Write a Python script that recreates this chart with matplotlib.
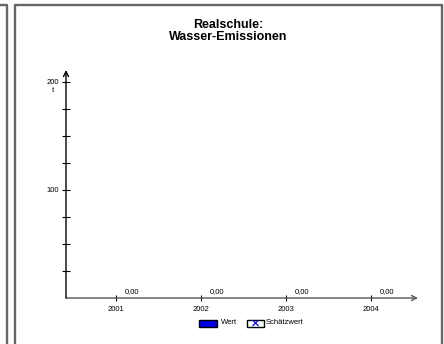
import matplotlib
matplotlib.use("Agg")
import matplotlib.pyplot as plt
from matplotlib.lines import Line2D
from matplotlib.patches import Rectangle
import numpy as np

plt.rcParams['font.family'] = ['Liberation Sans', 'DejaVu Sans']

title = "Realschule:\nWasser-Emissionen"
years = ["2001", "2002", "2003", "2004"]
wert = [0.0, 0.0, 0.0, 0.0]
unit = "t"
yticks_major = [100, 200]
legend_labels = ["Wert", "Schätzwert"]

W, H = 444, 344
fig = plt.figure(figsize=(W / 100, H / 100), dpi=100)

def fx(px):
    return px / W

def fy(py):
    return 1 - py / H

# panel frames
frame_col = "#666666"
fig.add_artist(Line2D([fx(0), fx(6.5), fx(6.5)], [fy(5), fy(5), fy(344)], color=frame_col, lw=1.7))
fig.add_artist(Line2D([fx(14.5), fx(14.5), fx(442), fx(442)], [fy(344), fy(5), fy(5), fy(344)], color=frame_col, lw=1.7))

# axes
x0_px, x1_px = 66, 418
y0_px, y1_px = 298, 70
cat0_px, step_px = 116, 85
ax = fig.add_axes([fx(x0_px), fy(y0_px), fx(x1_px - x0_px), (y0_px - y1_px) / H])
xmin = (x0_px - cat0_px) / step_px
xmax = (x1_px - cat0_px) / step_px
ymax = (y0_px - y1_px) / (y0_px - 82) * 200
ax.set_xlim(xmin, xmax)
ax.set_ylim(0, ymax)
ax.patch.set_alpha(0)
for s in ax.spines.values():
    s.set_visible(False)

# axis lines with arrows
ax.annotate("", xy=(xmax, 0), xytext=(xmin, 0),
            arrowprops=dict(arrowstyle="->", color="#555555", lw=1.0, mutation_scale=9, shrinkA=0, shrinkB=0),
            annotation_clip=False)
ax.annotate("", xy=(xmin, ymax), xytext=(xmin, 0),
            arrowprops=dict(arrowstyle="->", color="black", lw=1.0, mutation_scale=9, shrinkA=0, shrinkB=0),
            annotation_clip=False)

x = np.arange(len(years))
ax.set_xticks(x)
ax.set_xticklabels(years, fontsize=5.5)
ax.tick_params(axis='x', direction='inout', length=5, width=0.8, pad=3, colors='black')
ax.set_yticks(yticks_major)
ax.set_yticklabels([str(v) for v in yticks_major], fontsize=5.5)
ax.set_yticks(np.arange(25, 201, 25), minor=True)
ax.tick_params(axis='y', which='both', direction='inout', length=6, width=0.8, pad=2)

ax.text(-0.035, 192, unit, transform=ax.get_yaxis_transform(), ha='right', va='center', fontsize=5.5)

# bars (zero height) with value labels
offset = 16 / step_px
bw = 20 / step_px
bars = ax.bar(x + offset, wert, width=bw, color="#0000ee", edgecolor="black", lw=0.5)
for xi, v in zip(x, wert):
    ax.annotate(f"{v:.2f}".replace(".", ","), xy=(xi + offset, v), xytext=(0, 2),
                textcoords="offset points", ha='center', va='bottom', fontsize=5.5)

# title
fig.text(fx(228), fy(31), title, ha='center', va='center', fontsize=9, fontweight='bold', linespacing=1.0)

# legend
ly = 323
fig.add_artist(Rectangle((fx(199), fy(ly + 3.5)), fx(18), 7 / H, facecolor="#0000ee", edgecolor="black", lw=1.0))
fig.text(fx(221), fy(ly), legend_labels[0], ha='left', va='center', fontsize=5.5)
fig.add_artist(Rectangle((fx(247), fy(ly + 3.5)), fx(17), 7 / H, facecolor="white", edgecolor="black", lw=1.0))
fig.add_artist(Line2D([fx(253), fx(258)], [fy(ly + 2.5), fy(ly - 2.5)], color="#0000ee", lw=0.9))
fig.add_artist(Line2D([fx(253), fx(258)], [fy(ly - 2.5), fy(ly + 2.5)], color="#0000ee", lw=0.9))
fig.text(fx(266), fy(ly), legend_labels[1], ha='left', va='center', fontsize=5.5)

fig.savefig("out.png", dpi=100)
